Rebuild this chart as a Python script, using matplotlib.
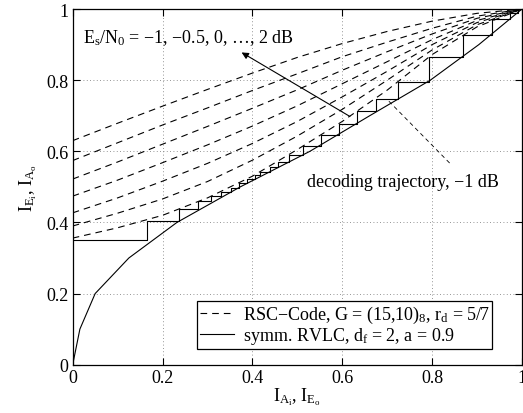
import matplotlib
matplotlib.use("Agg")
import matplotlib.pyplot as plt
from matplotlib.lines import Line2D

plt.rcParams['font.family'] = ['Liberation Serif', 'DejaVu Serif']
plt.rcParams['mathtext.fontset'] = 'custom'
plt.rcParams['mathtext.rm'] = 'Liberation Serif'
plt.rcParams['mathtext.it'] = 'Liberation Serif:italic'
plt.rcParams['mathtext.bf'] = 'Liberation Serif:bold'

# ---- data ----
ia = [0.0, 0.1, 0.2, 0.3, 0.4, 0.5, 0.6, 0.7, 0.8, 0.9, 1.0]
snr_db = [-1.0, -0.5, 0.0, 0.5, 1.0, 1.5, 2.0]
rsc_m10 = [0.356, 0.385, 0.420, 0.469, 0.530, 0.605, 0.684, 0.772, 0.872, 0.950, 1.0]
rsc_m05 = [0.390, 0.426, 0.466, 0.515, 0.575, 0.643, 0.718, 0.800, 0.885, 0.956, 1.0]
rsc_p00 = [0.427, 0.469, 0.516, 0.566, 0.622, 0.684, 0.753, 0.825, 0.900, 0.962, 1.0]
rsc_p05 = [0.474, 0.519, 0.568, 0.618, 0.671, 0.728, 0.790, 0.852, 0.914, 0.968, 1.0]
rsc_p10 = [0.522, 0.570, 0.620, 0.670, 0.721, 0.773, 0.828, 0.880, 0.930, 0.974, 1.0]
rsc_p15 = [0.574, 0.624, 0.674, 0.722, 0.771, 0.818, 0.866, 0.907, 0.946, 0.980, 1.0]
rsc_p20 = [0.630, 0.679, 0.727, 0.774, 0.820, 0.864, 0.903, 0.937, 0.966, 0.988, 1.0]
rsc_curves = [rsc_m10, rsc_m05, rsc_p00, rsc_p05, rsc_p10, rsc_p15, rsc_p20]

rvlc_ie = [0.0, 0.016, 0.050, 0.125, 0.232, 0.373, 0.528, 0.661, 0.796, 0.904, 1.0]
rvlc_ia = [0.0, 0.1, 0.2, 0.3, 0.4, 0.5, 0.6, 0.7, 0.8, 0.9, 1.0]

traj_x = [0.0, 0.166, 0.237, 0.280, 0.308, 0.331, 0.352, 0.371, 0.388, 0.406,
          0.418, 0.439, 0.458, 0.481, 0.513, 0.552, 0.592, 0.632, 0.675, 0.724,
          0.792, 0.869, 0.933, 0.974, 0.992]
traj_y = [0.350, 0.405, 0.437, 0.459, 0.473, 0.486, 0.497, 0.511, 0.522, 0.534,
          0.543, 0.557, 0.571, 0.590, 0.616, 0.647, 0.677, 0.712, 0.747, 0.796,
          0.865, 0.928, 0.972, 0.990, 0.998]

ticks = [0, 0.2, 0.4, 0.6, 0.8, 1.0]
tick_labels = ['0', '0.2', '0.4', '0.6', '0.8', '1']

FS = 13

# ---- figure ----
fig = plt.figure(figsize=(5.23, 4.14), dpi=100)
ax = fig.add_axes([0.139, 0.1167, 0.859, 0.859])

dash = (6, 4.5)
for c in rsc_curves:
    ax.plot(ia, c, color='k', lw=0.8, linestyle=(0, dash))
ax.plot(rvlc_ie, rvlc_ia, color='k', lw=0.8)
ax.step(traj_x, traj_y, where='post', color='k', lw=0.8)

ax.set_xlim(0, 1)
ax.set_ylim(0, 1)
ax.set_xticks(ticks)
ax.set_xticklabels(tick_labels)
ax.set_yticks(ticks)
ax.set_yticklabels(tick_labels)
ax.tick_params(direction='in', length=5, width=0.8, top=True, right=True,
               labelsize=FS, pad=3)
for s in ax.spines.values():
    s.set_linewidth(0.9)
ax.grid(True, color='0.45', linestyle=(0, (1, 3)), lw=0.6)

ax.set_xlabel(r'$\mathrm{I}_{\mathrm{A}_\mathrm{i}}$, $\mathrm{I}_{\mathrm{E}_\mathrm{o}}$',
              fontsize=FS, labelpad=0)
ax.set_ylabel(r'$\mathrm{I}_{\mathrm{E}_\mathrm{i}}$, $\mathrm{I}_{\mathrm{A}_\mathrm{o}}$',
              fontsize=FS, labelpad=5)

ax.text(0.022, 0.907, r'E$_\mathrm{s}$/N$_0$ = −1, −0.5, 0, …, 2 dB',
        fontsize=FS, va='baseline', ha='left')
ax.annotate('', xy=(0.376, 0.878), xytext=(0.617, 0.698),
            arrowprops=dict(arrowstyle='-|>', color='k', lw=0.8,
                            mutation_scale=10, shrinkA=0, shrinkB=0))
ax.text(0.521, 0.503, 'decoding trajectory, −1 dB', fontsize=FS,
        va='baseline', ha='left')
ax.plot([0.839, 0.699], [0.567, 0.747], color='k', lw=0.6, linestyle=(0, (5, 4)))

handles = [Line2D([], [], color='k', lw=0.8, linestyle=(0, dash)),
           Line2D([], [], color='k', lw=0.8)]
labels = [r'RSC−Code, G = (15,10)$_8$, r$_\mathrm{d}$ = 5/7',
          r'symm. RVLC, d$_\mathrm{f}$ = 2, a = 0.9']
leg = ax.legend(handles, labels, loc='lower right', bbox_to_anchor=(0.934, 0.044),
                borderaxespad=0, fontsize=FS, fancybox=False, framealpha=1,
                edgecolor='k', handlelength=1.9, handletextpad=0.5,
                borderpad=0.15, labelspacing=0.0)
leg.get_frame().set_linewidth(0.9)

fig.savefig('out.png', dpi=100)
